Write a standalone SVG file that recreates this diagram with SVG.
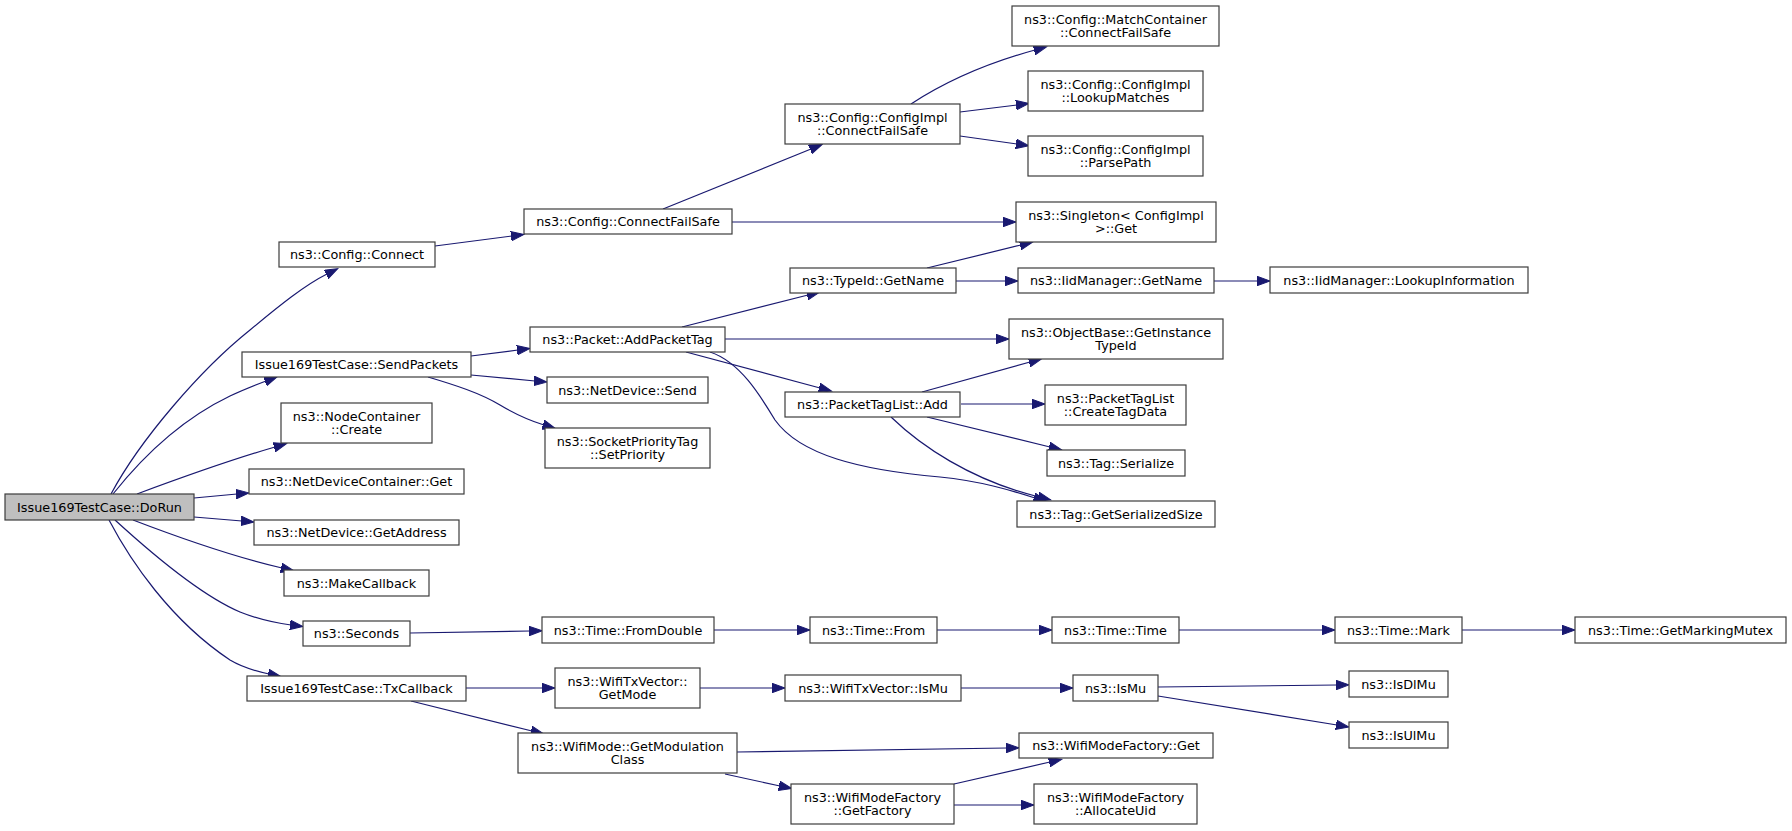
<svg xmlns="http://www.w3.org/2000/svg" width="1792" height="831" viewBox="0 0 1792 831">
<style>
.n rect{fill:#ffffff;stroke:#3c3c3c;stroke-width:1.2}
.n.root rect{fill:#bfbfbf}
.n text{font-family:"DejaVu Sans",sans-serif;font-size:12.8px;fill:#000;text-anchor:middle}
.e path{fill:none;stroke:#191970;stroke-width:1.2;marker-end:url(#ah)}
</style>
<defs>
<marker id="ah" markerUnits="userSpaceOnUse" markerWidth="14" markerHeight="10" refX="1" refY="4.75" orient="auto">
<path d="M0,0 L13,4.75 L0,9.5 z" fill="#191970" stroke="#191970" stroke-width="1"/>
</marker>
</defs>
<rect width="1792" height="831" fill="#ffffff"/>
<g id="edges" class="e">
<path d="M111,494 C140,440 200,370 250,330 C280,305 305,285 327,274"/>
<path d="M113,494 C140,460 180,420 230,396 C243,390 253,386 266,381"/>
<path d="M137,494 C180,478 230,460 275,447"/>
<path d="M194,498 L237,494"/>
<path d="M194,517 L242,521"/>
<path d="M133,520 C180,538 230,556 282,568"/>
<path d="M115,520 C150,552 200,595 240,612 C260,620 275,623 291,625"/>
<path d="M109,520 C130,560 170,620 230,660 C240,666 255,671 269,674"/>
<path d="M435,246 L512,236"/>
<path d="M663,209 L811,149"/>
<path d="M732,222 L1004,222"/>
<path d="M911,104 C940,85 980,65 1035,50"/>
<path d="M960,112 L1017,105"/>
<path d="M960,136 L1017,144"/>
<path d="M927,268 L1021,245"/>
<path d="M956,281 L1006,281"/>
<path d="M1214,281 L1258,281"/>
<path d="M471,356 L518,350"/>
<path d="M471,375 L535,381"/>
<path d="M428,377 C455,385 480,393 500,405 C515,414 528,420 544,425"/>
<path d="M682,327 L808,295"/>
<path d="M725,339 L997,339"/>
<path d="M686,352 L820,388"/>
<path d="M710,352 C740,362 760,395 775,420 C800,455 860,470 940,477 C980,481 1010,490 1035,498"/>
<path d="M922,392 L1030,362"/>
<path d="M961,404 L1033,404"/>
<path d="M927,417 L1050,447"/>
<path d="M891,417 C920,445 970,480 1039,497"/>
<path d="M410,633 L530,631"/>
<path d="M714,630 L798,630"/>
<path d="M937,630 L1040,630"/>
<path d="M1179,630 L1323,630"/>
<path d="M1462,630 L1563,630"/>
<path d="M466,688 L543,688"/>
<path d="M411,701 L532,731"/>
<path d="M700,688 L773,688"/>
<path d="M961,688 L1061,688"/>
<path d="M1158,687 L1337,685"/>
<path d="M1158,696 L1337,725"/>
<path d="M737,752 L1007,748"/>
<path d="M725,774 L780,786"/>
<path d="M954,784 L1050,762"/>
<path d="M954,805 L1022,805"/>
</g>
<g id="n_dorun" class="n root"><rect x="5" y="494" width="189" height="26"/><text x="99.5" y="511.5">Issue169TestCase::DoRun</text></g>
<g id="n_connect" class="n"><rect x="279" y="242" width="156" height="25"/><text x="357" y="259">ns3::Config::Connect</text></g>
<g id="n_sendpackets" class="n"><rect x="242" y="352" width="229" height="25"/><text x="356.5" y="369">Issue169TestCase::SendPackets</text></g>
<g id="n_nodecreate" class="n"><rect x="281" y="403" width="151" height="40"/><text x="356.5" y="420.5">ns3::NodeContainer</text><text x="356.5" y="434">::Create</text></g>
<g id="n_ndcget" class="n"><rect x="249" y="469" width="215" height="25"/><text x="356.5" y="486">ns3::NetDeviceContainer::Get</text></g>
<g id="n_getaddress" class="n"><rect x="254" y="520" width="205" height="25"/><text x="356.5" y="537">ns3::NetDevice::GetAddress</text></g>
<g id="n_makecallback" class="n"><rect x="284" y="570" width="145" height="26"/><text x="356.5" y="587.5">ns3::MakeCallback</text></g>
<g id="n_seconds" class="n"><rect x="303" y="621" width="107" height="25"/><text x="356.5" y="638">ns3::Seconds</text></g>
<g id="n_txcallback" class="n"><rect x="247" y="676" width="219" height="25"/><text x="356.5" y="693">Issue169TestCase::TxCallback</text></g>
<g id="n_cfs" class="n"><rect x="524" y="209" width="208" height="25"/><text x="628" y="226">ns3::Config::ConnectFailSafe</text></g>
<g id="n_implcfs" class="n"><rect x="785" y="104" width="175" height="40"/><text x="872.5" y="121.5">ns3::Config::ConfigImpl</text><text x="872.5" y="135">::ConnectFailSafe</text></g>
<g id="n_matchcfs" class="n"><rect x="1012" y="6" width="207" height="40"/><text x="1115.5" y="23.5">ns3::Config::MatchContainer</text><text x="1115.5" y="37">::ConnectFailSafe</text></g>
<g id="n_lookup" class="n"><rect x="1028" y="71" width="175" height="40"/><text x="1115.5" y="88.5">ns3::Config::ConfigImpl</text><text x="1115.5" y="102">::LookupMatches</text></g>
<g id="n_parse" class="n"><rect x="1028" y="136" width="175" height="40"/><text x="1115.5" y="153.5">ns3::Config::ConfigImpl</text><text x="1115.5" y="167">::ParsePath</text></g>
<g id="n_singleton" class="n"><rect x="1016" y="202" width="200" height="40"/><text x="1116" y="219.5">ns3::Singleton&lt; ConfigImpl</text><text x="1116" y="233">&gt;::Get</text></g>
<g id="n_typeidname" class="n"><rect x="790" y="268" width="166" height="25"/><text x="873" y="285">ns3::TypeId::GetName</text></g>
<g id="n_iidname" class="n"><rect x="1018" y="268" width="196" height="25"/><text x="1116" y="285">ns3::IidManager::GetName</text></g>
<g id="n_lookupinfo" class="n"><rect x="1270" y="267" width="258" height="26"/><text x="1399" y="284.5">ns3::IidManager::LookupInformation</text></g>
<g id="n_addpackettag" class="n"><rect x="530" y="327" width="195" height="25"/><text x="627.5" y="344">ns3::Packet::AddPacketTag</text></g>
<g id="n_objbase" class="n"><rect x="1009" y="319" width="214" height="40"/><text x="1116" y="336.5">ns3::ObjectBase::GetInstance</text><text x="1116" y="350">TypeId</text></g>
<g id="n_ndsend" class="n"><rect x="547" y="377" width="161" height="26"/><text x="627.5" y="394.5">ns3::NetDevice::Send</text></g>
<g id="n_setprio" class="n"><rect x="545" y="428" width="165" height="40"/><text x="627.5" y="445.5">ns3::SocketPriorityTag</text><text x="627.5" y="459">::SetPriority</text></g>
<g id="n_ptladd" class="n"><rect x="785" y="392" width="175" height="25"/><text x="872.5" y="409">ns3::PacketTagList::Add</text></g>
<g id="n_createtag" class="n"><rect x="1045" y="385" width="141" height="40"/><text x="1115.5" y="402.5">ns3::PacketTagList</text><text x="1115.5" y="416">::CreateTagData</text></g>
<g id="n_tagser" class="n"><rect x="1047" y="450" width="138" height="26"/><text x="1116" y="467.5">ns3::Tag::Serialize</text></g>
<g id="n_tagsize" class="n"><rect x="1017" y="501" width="198" height="26"/><text x="1116" y="518.5">ns3::Tag::GetSerializedSize</text></g>
<g id="n_fromdouble" class="n"><rect x="542" y="617" width="172" height="26"/><text x="628" y="634.5">ns3::Time::FromDouble</text></g>
<g id="n_from" class="n"><rect x="810" y="617" width="127" height="26"/><text x="873.5" y="634.5">ns3::Time::From</text></g>
<g id="n_time" class="n"><rect x="1052" y="617" width="127" height="26"/><text x="1115.5" y="634.5">ns3::Time::Time</text></g>
<g id="n_mark" class="n"><rect x="1335" y="617" width="127" height="26"/><text x="1398.5" y="634.5">ns3::Time::Mark</text></g>
<g id="n_mutex" class="n"><rect x="1575" y="617" width="211" height="26"/><text x="1680.5" y="634.5">ns3::Time::GetMarkingMutex</text></g>
<g id="n_getmode" class="n"><rect x="555" y="668" width="145" height="40"/><text x="627.5" y="685.5">ns3::WifiTxVector::</text><text x="627.5" y="699">GetMode</text></g>
<g id="n_txismu" class="n"><rect x="785" y="675" width="176" height="26"/><text x="873" y="692.5">ns3::WifiTxVector::IsMu</text></g>
<g id="n_ismu" class="n"><rect x="1073" y="675" width="85" height="26"/><text x="1115.5" y="692.5">ns3::IsMu</text></g>
<g id="n_isdlmu" class="n"><rect x="1349" y="671" width="99" height="26"/><text x="1398.5" y="688.5">ns3::IsDlMu</text></g>
<g id="n_isulmu" class="n"><rect x="1349" y="722" width="99" height="26"/><text x="1398.5" y="739.5">ns3::IsUlMu</text></g>
<g id="n_modclass" class="n"><rect x="518" y="733" width="219" height="40"/><text x="627.5" y="750.5">ns3::WifiMode::GetModulation</text><text x="627.5" y="764">Class</text></g>
<g id="n_wmfget" class="n"><rect x="1019" y="733" width="194" height="25"/><text x="1116" y="750">ns3::WifiModeFactory::Get</text></g>
<g id="n_getfactory" class="n"><rect x="791" y="784" width="163" height="40"/><text x="872.5" y="801.5">ns3::WifiModeFactory</text><text x="872.5" y="815">::GetFactory</text></g>
<g id="n_allocuid" class="n"><rect x="1034" y="784" width="163" height="40"/><text x="1115.5" y="801.5">ns3::WifiModeFactory</text><text x="1115.5" y="815">::AllocateUid</text></g>
</svg>
